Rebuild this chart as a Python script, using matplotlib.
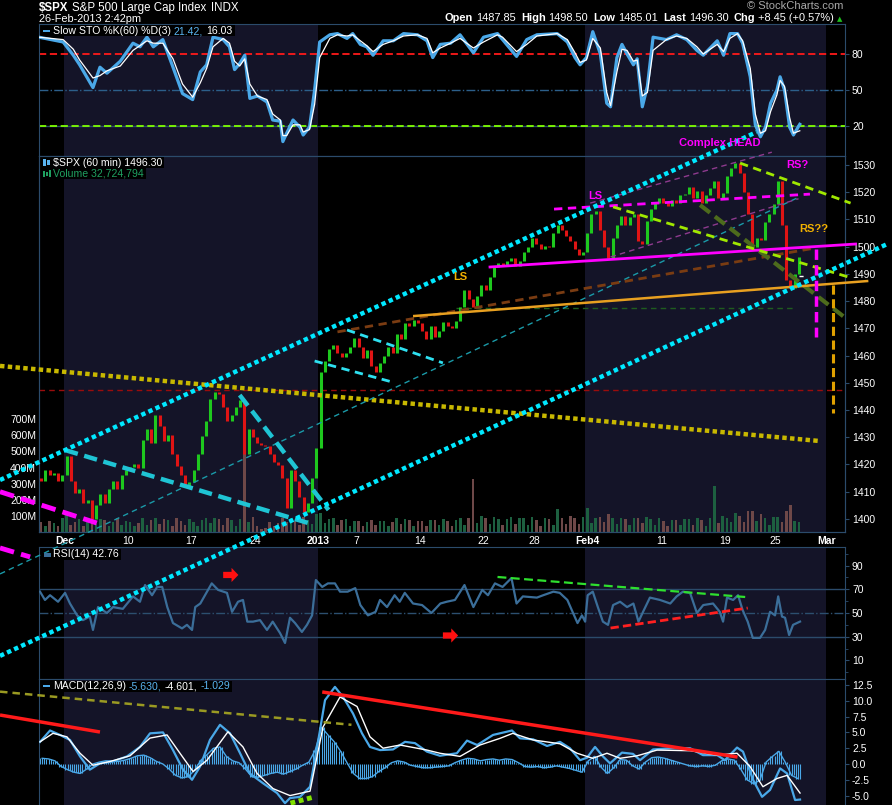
import matplotlib
matplotlib.use('Agg')
import matplotlib.pyplot as plt
from matplotlib.patches import Polygon, Rectangle
import numpy as np

W, H = 892, 805
FONT = ['Liberation Sans', 'DejaVu Sans']
plt.rcParams['font.family'] = FONT

# ---------------------------------------------------------------- data
# $SPX 60 min, three samples per trading day, day 0 = Nov 29 2012 ... day 59 = Feb 26 2013
price_close = [
    1414, 1418, 1416,      # Nov 29
    1417, 1414, 1416.2,    # Nov 30
    1423, 1414, 1409.5,    # Dec 3
    1411, 1406, 1407,
    1400, 1405, 1409.3,
    1406, 1411, 1413.9,
    1411, 1416, 1418.1,
    1419, 1420, 1418.6,    # Dec 10
    1429, 1433, 1427.8,
    1438, 1434, 1428.5,
    1431, 1424, 1419.5,
    1416, 1412, 1413.6,
    1418, 1424, 1430.4,    # Dec 17
    1436, 1444, 1446.8,
    1446, 1441, 1435.8,
    1438, 1441, 1443.7,
    1424, 1433, 1430.2,
    1428, 1427, 1426.7,    # Dec 24
    1424, 1421, 1419.8,
    1415, 1404, 1418.1,
    1414, 1408, 1402.4,
    1406, 1415, 1426.2,
    1454, 1458, 1462.4,    # Jan 2
    1464, 1461, 1459.4,
    1461, 1463, 1466.5,
    1463, 1459, 1461.9,    # Jan 7
    1456, 1454, 1457.2,
    1460, 1463, 1461.0,
    1468, 1466, 1472.1,
    1471, 1473, 1472.1,
    1469, 1466, 1470.7,    # Jan 14
    1467, 1469, 1472.3,
    1471, 1470, 1472.6,
    1478, 1484, 1480.9,
    1478, 1482, 1486.0,
    1484, 1489, 1492.6,    # Jan 22
    1494, 1493, 1494.8,
    1496, 1493, 1494.8,
    1498, 1500, 1503.0,
    1501, 1499, 1500.2,    # Jan 28
    1500, 1505, 1507.8,
    1506, 1504, 1502.0,
    1499, 1497, 1498.1,
    1505, 1512, 1513.2,
    1506, 1500, 1495.7,    # Feb 4
    1503, 1508, 1511.3,
    1508, 1511, 1512.1,
    1502, 1501, 1509.4,
    1514, 1516, 1517.9,
    1516, 1515, 1517.0,    # Feb 11
    1516, 1519, 1519.4,
    1522, 1518, 1520.3,
    1516, 1519, 1521.4,
    1524, 1518, 1519.8,
    1526, 1529, 1530.9,    # Feb 19
    1527, 1520, 1512.0,
    1500, 1503, 1502.4,
    1509, 1512, 1515.6,
    1524, 1508, 1487.9,    # Feb 25
    1485, 1490, 1496.3,
]

volume_m = [
    60, 40, 70,   55, 35, 90,   110, 45, 65,  80, 40, 75,   95, 50, 80,
    75, 40, 60,   85, 45, 70,   60, 35, 55,   85, 45, 75,   90, 50, 80,
    75, 40, 85,   70, 45, 80,   65, 40, 75,   85, 55, 90,   80, 45, 85,
    75, 40, 80,   780, 60, 95, 35, 20, 25,   60, 35, 55,   90, 60, 85,
    70, 45, 95,   75, 50, 110, 120, 55, 80,  85, 45, 75,   80, 40, 70,
    70, 40, 65,   75, 45, 70,   70, 40, 65,   85, 50, 80,   75, 40, 70,
    70, 40, 75,   75, 45, 80,   70, 40, 75,   85, 45, 90,   330, 55, 100,
    85, 50, 95,   80, 45, 80,   95, 50, 90,   85, 45, 95,   75, 40, 85,
    80, 45, 140,  90, 50, 100,  85, 50, 95,   150, 55, 90,  95, 60, 110,
    85, 50, 90,   80, 45, 85,   90, 55, 95,   80, 45, 85,   70, 40, 75,
    75, 45, 80,   80, 45, 85,   75, 40, 90,   285, 55, 100, 90, 60, 120,
    100, 65, 130, 130, 70, 110, 85, 45, 95,   95, 60, 130,  170, 70, 60,
]

# (trading day, %K, %D)
sto_pts = [
    (0.0, 94, 94), (1.9, 90, 92), (2.7, 79, 84), (3.2, 71, 75), (4.25, 52, 60), (4.8, 69, 62), (5.35, 64, 66),
    (6.4, 74, 70), (7.4, 89, 83), (7.95, 86, 87), (8.5, 94, 91), (9.0, 86, 89), (9.75, 92, 89), (10.55, 69, 76),
    (11.3, 47, 55), (12.1, 42, 44), (12.7, 65, 56), (13.2, 71, 68), (13.7, 94, 86), (14.5, 92, 93), (15.0, 86, 89),
    (15.4, 67, 74), (15.8, 72, 70), (16.2, 79, 76), (16.6, 43, 55), (17.2, 45, 45), (17.95, 40, 42), (18.4, 25, 30),
    (19.0, 24, 25), (19.2, 7, 12), (19.5, 14, 12), (20.0, 25, 21), (20.55, 19, 21), (20.8, 12.5, 15), (21.3, 19, 17),
    (21.7, 50, 38), (22.1, 90, 77), (22.9, 96, 93), (23.5, 97, 96), (24.25, 93, 95), (24.7, 97, 96), (25.3, 88, 91),
    (25.8, 86, 87), (26.3, 79, 82), (27.1, 91, 88), (27.9, 91, 91), (28.7, 97, 95), (29.8, 96, 96), (30.55, 91, 93),
    (31.0, 77, 81), (31.6, 88, 85), (32.4, 89, 89), (33.15, 96, 93), (34.2, 81, 85), (35.0, 94, 90), (36.1, 97, 96),
    (36.5, 92, 94), (37.6, 78, 82), (38.4, 92, 88), (39.2, 96, 95), (40.8, 97, 97), (41.6, 90, 92), (42.2, 77, 81),
    (42.6, 71, 73), (43.1, 77, 75), (43.6, 98.6, 93), (44.2, 80, 85), (44.7, 39, 48), (45.0, 36, 37), (45.5, 77, 65),
    (45.9, 88, 84), (46.3, 80, 83), (46.8, 71, 74), (47.1, 76, 75), (47.5, 36, 45), (47.9, 53, 48), (48.35, 94, 83),
    (49.4, 92, 92), (50.2, 96, 95), (51.0, 92, 93), (51.8, 83, 86), (52.3, 79, 80), (53.4, 91, 88), (53.9, 79, 82),
    (54.4, 97, 93), (55.0, 97, 97), (55.4, 89, 91), (56.0, 61, 68), (56.4, 21, 30), (56.8, 11, 14), (57.2, 19, 16),
    (57.6, 39, 32), (58.1, 50, 46), (58.35, 61, 58), (58.7, 50, 53), (59.1, 19, 27), (59.4, 12.5, 14), (59.9, 21.42, 16.03),
]

# (trading day, RSI 14)
rsi_pts = [
    (0.08, 68), (0.47, 61), (0.87, 65), (1.5, 59.5), (2.05, 67), (2.44, 58), (3.0, 48), (3.46, 44), (4.0, 47),
    (4.25, 35.7), (4.65, 55), (5.35, 50), (5.83, 55), (6.6, 53.5), (7.4, 64), (7.95, 59.5), (8.35, 73.6), (8.9, 65),
    (9.3, 72), (9.7, 72), (10.1, 55), (10.55, 41.5), (11.26, 37), (11.65, 40), (12.05, 35.7), (12.3, 55), (12.7, 58),
    (13.07, 65), (13.6, 75), (14.1, 69.5), (14.8, 67), (15.2, 51), (15.67, 59.5), (16.06, 61), (16.4, 42.7),
    (16.85, 42.7), (17.4, 44), (17.95, 35.7), (18.4, 42.7), (18.98, 33), (19.37, 24.7), (19.76, 46), (20.16, 41.5),
    (20.7, 34), (21.1, 40), (21.5, 48), (21.8, 77.8), (22.3, 72), (22.75, 75), (23.3, 75), (23.7, 68), (24.3, 68),
    (24.9, 71), (25.3, 56.7), (25.9, 48), (26.5, 51), (26.85, 61), (27.4, 55), (28.0, 65), (28.4, 59.5), (28.8, 67),
    (29.45, 58), (30.16, 56.7), (30.9, 50), (31.6, 58), (32.1, 59.5), (32.75, 61), (33.5, 73.6), (34.2, 55),
    (34.9, 69.5), (35.35, 65), (35.9, 75), (36.5, 72), (37.2, 79.5), (37.6, 58), (38.1, 64), (39.2, 63), (39.7, 65),
    (40.5, 68), (41.0, 67), (41.6, 61), (42.05, 50), (42.4, 41.5), (42.75, 48), (43.0, 42.7), (43.2, 65), (43.6, 68),
    (44.0, 55), (44.4, 42.7), (44.8, 40), (45.2, 56.7), (45.75, 59.5), (46.3, 55), (46.8, 58), (47.2, 42.7),
    (47.56, 51), (48.1, 63), (48.9, 61), (49.7, 58), (50.2, 64), (50.7, 68), (51.26, 67), (51.8, 50), (52.3, 56.7),
    (53.07, 58), (53.6, 51), (53.86, 42.7), (54.17, 63), (54.65, 61), (55.04, 65), (55.4, 52.5), (55.8, 42.7),
    (56.2, 29), (56.77, 29), (57.17, 35.7), (57.56, 51), (57.95, 48), (58.2, 64), (58.5, 47), (58.74, 46),
    (59.06, 31.4), (59.37, 40), (59.92, 42.76),
]

# (trading day, MACD line)
macd_pts = [
    (0.08, 3.5), (0.87, 5.3), (1.65, 4.6), (2.44, 3.8), (3.23, 1.2), (4.0, -0.9), (4.8, 0.1), (5.83, 0.4),
    (6.93, 1.2), (7.95, 2.7), (8.74, 4.85), (9.76, 5.0), (10.55, 2.2), (11.34, -0.9), (12.05, -2.5), (12.68, -0.4),
    (13.46, 3.8), (14.25, 6.2), (15.04, 4.85), (15.83, 1.7), (16.6, -1.5), (17.64, -3.05), (18.74, -4.6),
    (19.37, -6.2), (19.76, -5.4), (20.55, -5.2), (21.34, -3.6), (21.9, 2.7), (22.52, 10.1), (23.3, 12.2),
    (23.94, 10.6), (24.72, 8.0), (25.43, 4.85), (26.06, 2.7), (26.85, 2.2), (27.87, 2.3), (28.82, 3.5), (29.6, 3.3),
    (30.55, 1.95), (31.57, 1.3), (32.9, 1.7), (33.7, 3.7), (34.5, 3.0), (35.75, 4.6), (37.24, 5.3), (37.87, 4.06),
    (38.9, 3.9), (40.0, 2.85), (41.02, 3.5), (41.8, 2.5), (42.6, 0.6), (43.15, 1.0), (43.78, 2.7), (44.4, 1.2),
    (44.96, 0.1), (45.9, 1.8), (46.77, 1.6), (47.32, 0.6), (48.35, 2.3), (49.9, 2.5), (51.26, 2.5), (52.28, 1.4),
    (53.4, 1.4), (54.0, 0.6), (54.96, 2.6), (55.43, 1.95), (56.22, -2.5), (56.93, -5.2), (57.56, -4.1),
    (58.35, -0.7), (58.9, -1.5), (59.53, -5.7), (59.92, -5.63),
]

# (trading day, signal line)
signal_pts = [
    (0.08, 3.5), (1.1, 4.85), (2.2, 4.3), (3.23, 1.7), (4.25, -0.2), (5.6, 0.4), (7.17, 1.3), (8.74, 4.1),
    (10.08, 4.6), (11.1, 1.7), (12.13, -1.2), (13.23, 0.6), (14.88, 5.1), (16.06, 2.7), (17.17, -1.5),
    (18.43, -3.9), (19.76, -5.0), (21.34, -4.3), (22.36, 5.85), (23.7, 10.6), (25.04, 9.1), (26.06, 4.3),
    (27.09, 2.5), (28.43, 3.0), (30.55, 2.2), (31.57, 1.7), (33.15, 1.2), (34.72, 3.0), (36.3, 4.06), (37.3, 4.85),
    (38.9, 3.8), (41.02, 3.2), (42.36, 1.7), (43.6, 0.9), (44.72, 1.7), (45.75, 0.9), (47.1, 1.3), (48.66, 2.2),
    (51.26, 2.1), (53.4, 1.4), (54.96, 1.7), (55.98, -0.4), (57.0, -3.6), (58.1, -2.3), (58.9, -1.8), (59.92, -4.6),
]

# MACD histogram, one value per half trading day
macd_hist = [
    0.9, 0.8, 0.5, -0.4, -0.9, -1.3, -1.5, -0.8, 0.0, 0.3,
    0.5, 0.5, 0.4, 0.6, 0.9, 1.3, 1.4, 1.0, 0.4, 0.0,
    -0.8, -1.8, -2.2, -2.0, -1.0, 0.6, 1.5, 2.5, 2.7, 1.2,
    0.5, 0.2, -0.8, -2.0, -2.1, -1.8, -1.5, -1.3, -1.6, -1.2,
    -0.8, -0.2, 0.3, 2.2, 5.8, 4.6, 3.5, 2.0, 0.2, -1.5,
    -2.3, -2.3, -2.0, -1.2, -0.6, 0.2, 0.5, 0.3, -0.2, -0.4,
    -0.6, -0.6, -0.5, -0.4, -0.3, 0.2, 0.6, 0.9, 0.8, 0.5,
    0.7, 0.8, 0.6, 0.8, 0.7, 0.2, -0.4, -0.5, -0.4, -0.6,
    -0.5, -0.3, -0.5, -0.7, -1.0, -1.3, 0.5, 1.2, -0.5, -1.5,
    -0.6, 0.7, 0.6, -0.3, -0.8, 0.3, 1.0, 1.1, 0.9, 0.6,
    0.3, 0.0, -0.3, -0.4, -0.3, -0.4, -0.2, 0.5, 0.8, 0.6,
    -0.8, -2.5, -3.1, -2.6, 0.3, 1.2, 2.0, 0.3, -1.8, -2.3,
]

tick_days = [2, 7, 12, 17, 22, 25, 30, 35, 39, 43.2, 49, 54, 58, 62]
tick_labels = ['Dec', '10', '17', '24', '2013', '7', '14', '22', '28', 'Feb4', '11', '19', '25', 'Mar']
bold_ticks = {'Dec', '2013', 'Feb4', 'Mar'}
month_shade = [(2, 22), (43, 62)]   # December and February

# drawn trendlines, (day, price) end points
cyan_channel = [((-3.07, 1414.3), (56.5, 1542.1)), ((-3.07, 1349.7), (66.8, 1501.0))]
cyan_wedge = [((2.05, 1425.3), (21.2, 1398.5)), ((15.8, 1445.5), (22.8, 1403.3))]
cyan_flag = [((24.25, 1469.4), (31.8, 1457.3)), ((21.7, 1458.0), (27.8, 1450.3))]
teal_mid = [((-3.07, 1379.8), (59.7, 1517.9))]
purple_thin = [((45.0, 1496.2), (59.8, 1517.6)), ((43.4, 1516.0), (57.7, 1534.7))]
neck_magenta = ((35.4, 1492.5), (64.4, 1501.0))
top_magenta = ((40.55, 1513.8), (60.7, 1519.3))
left_magenta = ((-3.07, 1410.0), (4.55, 1398.5))
neck_orange = ((29.45, 1474.5), (65.3, 1487.4))
brown_line = ((23.5, 1468.7), (61.1, 1499.5))
yellow_line = ((-3.07, 1456.2), (61.5, 1428.6))
lime_lines = [((45.2, 1514.6), (63.7, 1488.9)), ((55.2, 1530.7), (63.9, 1516.0))]
olive_line = ((52.05, 1515.3), (63.5, 1473.8))
target_magenta = ((61.2, 1499.2), (61.2, 1466.8))
target_orange = ((62.5, 1485.9), (62.5, 1438.9))
red_level = 1447.4
green_level = (32.8, 59.5, 1477.5)
white_level = (59.3, 60.2, 1489.2)
rsi_green = ((36.1, 80.4), (55.6, 63.5))
rsi_red = ((45.0, 37.3), (55.8, 54.2))
rsi_magenta = ((-3.07, 104.9), (-0.7, 97.3))
macd_red = [((22.3, 11.4), (55.0, 1.1)), ((-3.07, 7.75), (4.8, 5.06))]
macd_olive = ((-3.07, 11.45), (24.6, 6.2))
macd_green = ((19.8, -6.2), (21.7, -5.2))

# ---------------------------------------------------------------- style
SHADE = '#141428'
FRAME = '#2b4b6b'
UP, DOWN = '#1ec81e', '#e01414'
VOL_UP, VOL_DN = '#1d6040', '#6e4848'
BLUE = '#4aa8e8'
XMAX = 63.46
DOT = (0, (1, 0.75))

fig = plt.figure(figsize=(W / 100, H / 100), dpi=100, facecolor='black')


def rect(y0, y1):
    return [39 / W, 1 - y1 / H, 806 / W, (y1 - y0) / H]


def panel(y0, y1, ylim, shade=True):
    ax = fig.add_axes(rect(y0, y1))
    ax.set_facecolor('black')
    ax.set_xlim(0, XMAX)
    ax.set_ylim(*ylim)
    for s in ax.spines.values():
        s.set_color(FRAME)
    ax.tick_params(axis='x', bottom=False, labelbottom=False)
    ax.yaxis.tick_right()
    ax.tick_params(axis='y', which='both', colors=FRAME, labelcolor='white', labelsize=7.5, length=3, pad=2)
    if shade:
        for a, b in month_shade:
            ax.axvspan(a, b, color=SHADE, zorder=0, lw=0)
    return ax


def seg(ax, p0, p1, **kw):
    ax.plot([p0[0], p1[0]], [p0[1], p1[1]], clip_on=False, solid_capstyle='butt',
            dash_capstyle='butt', **kw)


# ---- slow stochastics
ax_s = panel(24, 156, (-5, 105))
ax_s.axhline(80, color='#ff1a1a', lw=1.3, ls=(0, (4, 2)))
ax_s.axhline(50, color='#2c5f8a', lw=1, ls='-.')
ax_s.axhline(20, color=FRAME, lw=1)
ax_s.axhline(20, color='#7fff00', lw=1.3, ls=(0, (4, 2)))
st, sk, sd = zip(*sto_pts)
ax_s.plot(st, sk, color=BLUE, lw=2.3, zorder=3)
ax_s.plot(st, sd, color='white', lw=0.9, zorder=4)
ax_s.set_yticks([20, 50, 80])

# ---- volume (behind) and price
ax_v = panel(156, 532, (0, 2335))
ax_v.yaxis.tick_left()
ax_v.set_yticks(range(100, 701, 100))
ax_v.set_yticklabels([f'{v}M' for v in range(100, 701, 100)])
ax_v.tick_params(axis='y', length=0, pad=2, labelsize=7.5, labelcolor='white')

close = np.array(price_close, dtype=float)
opens = np.concatenate([[1415.0], close[:-1]])
xb = np.arange(len(close)) / 3 + 1 / 6
upmask = close >= opens
ax_v.bar(xb, volume_m, width=0.2, color=[VOL_UP if u else VOL_DN for u in upmask], zorder=2)

ax_p = fig.add_axes(rect(156, 532), sharex=ax_v)
ax_p.set_zorder(5)
ax_p.set_facecolor('none')
ax_p.set_ylim(1395.2, 1533.3)
for s in ax_p.spines.values():
    s.set_color(FRAME)
ax_p.yaxis.tick_right()
ax_p.set_yticks(range(1400, 1531, 10))
ax_p.tick_params(axis='y', colors=FRAME, labelcolor='white', labelsize=7.5, length=3, pad=2)
ax_p.set_xticks(tick_days)
ax_p.set_xticklabels(tick_labels)
ax_p.tick_params(axis='x', length=0, pad=3, labelsize=7.5, labelcolor='white')
for lab in ax_p.get_xticklabels():
    if lab.get_text() in bold_ticks:
        lab.set_fontweight('bold')

ax_p.vlines(xb, np.minimum(opens, close), np.maximum(opens, close),
            colors=[UP if u else DOWN for u in upmask], lw=2.2, zorder=3)

ax_p.axhline(red_level, color='#9a0c0c', lw=1, ls=(0, (4, 3)), zorder=2)
seg(ax_p, (green_level[0], green_level[2]), (green_level[1], green_level[2]), color='#1f5c1f', lw=1, ls=(0, (4, 3)))
seg(ax_p, (white_level[0], white_level[2]), (white_level[1], white_level[2]), color='white', lw=1, ls=(0, (3, 2)))
seg(ax_p, *yellow_line, color='#c8b800', lw=3.2, ls=DOT, zorder=4)
seg(ax_p, *teal_mid[0], color='#1a9aa8', lw=1, ls=(0, (4, 3)), zorder=4)
for p0, p1 in purple_thin:
    seg(ax_p, p0, p1, color='#8e3a8e', lw=1, ls=(0, (4, 3)), zorder=4)
seg(ax_p, *brown_line, color='#7a3c12', lw=2, ls=(0, (3, 2)), zorder=4)
seg(ax_p, *olive_line, color='#4d6b1c', lw=3, ls=(0, (3, 1.5)), zorder=4)
seg(ax_p, *neck_orange, color='#e8a020', lw=1.8, zorder=4)
seg(ax_p, *neck_magenta, color='#ff00ff', lw=2, zorder=4)
seg(ax_p, *top_magenta, color='#ff00ff', lw=2, ls=(0, (3, 2)), zorder=4)
seg(ax_p, *left_magenta, color='#ff00ff', lw=3.5, ls=(0, (3, 1.5)), zorder=4)
for p0, p1 in lime_lines:
    seg(ax_p, p0, p1, color='#a0e800', lw=2, ls=(0, (3, 2)), zorder=4)
for p0, p1 in cyan_wedge:
    seg(ax_p, p0, p1, color='#1fc4d4', lw=3.2, ls=(0, (3, 1.5)), zorder=4)
for p0, p1 in cyan_flag:
    seg(ax_p, p0, p1, color='#2ee0f0', lw=2, ls=(0, (3, 2)), zorder=4)
for p0, p1 in cyan_channel:
    seg(ax_p, p0, p1, color='#00e8ff', lw=3.2, ls=DOT, zorder=4)
seg(ax_p, *target_magenta, color='#ff00ff', lw=2.5, ls=(0, (3, 1.5)), zorder=4)
seg(ax_p, *target_orange, color='#e0a000', lw=2.2, ls=(0, (3, 1.5)), zorder=4)

lab_kw = dict(fontsize=8, fontweight='bold', ha='center', va='center', zorder=6)
ax_p.text(53.6, 1538.1, 'Complex HEAD', color='#ff00ff', **lab_kw)
ax_p.text(59.7, 1530.0, 'RS?', color='#ff00ff', **lab_kw)
ax_p.text(43.8, 1518.6, 'LS', color='#ff00ff', **lab_kw)
ax_p.text(33.2, 1488.9, 'LS', color='#f0b000', **lab_kw)
ax_p.text(61.0, 1506.5, 'RS??', color='#f0b000', **lab_kw)

# ---- RSI
ax_r = panel(547, 679, (-5.7, 105.7))
ax_r.axhline(70, color=FRAME, lw=1)
ax_r.axhline(30, color=FRAME, lw=1)
ax_r.axhline(50, color='#2c4f6f', lw=1, ls='-.')
rt, rv = zip(*rsi_pts)
ax_r.plot(rt, rv, color='#3b6e99', lw=1.6, zorder=3)
ax_r.set_yticks([10, 30, 50, 70, 90])
ax_r.set_yticks(range(0, 101, 10), minor=True)
ax_r.tick_params(axis='y', which='minor', length=2)
seg(ax_r, *rsi_green, color='#2ee02e', lw=1.6, ls=(0, (4, 2)), zorder=4)
seg(ax_r, *rsi_red, color='#ff2020', lw=2, ls=(0, (3, 1.5)), zorder=4)
seg(ax_r, *rsi_magenta, color='#ff00ff', lw=3.5, ls=(0, (3, 1.5)), zorder=4)


def arrow(ax, x0, x1, yc, h):
    xm = x0 + 0.55 * (x1 - x0)
    pts = [(x0, yc - h * 0.22), (xm, yc - h * 0.22), (xm, yc - h / 2), (x1, yc),
           (xm, yc + h / 2), (xm, yc + h * 0.22), (x0, yc + h * 0.22)]
    ax.add_patch(Polygon(pts, closed=True, fc='#ff1010', ec='none', zorder=5))


arrow(ax_r, 14.5, 15.7, 82.1, 12)
arrow(ax_r, 31.8, 33.0, 31.0, 12)

# ---- MACD
ax_m = panel(679, 806, (-6.65, 13.45))
ax_m.spines['bottom'].set_visible(False)
# histogram drawn as thin stripes (three per half-day value) with an outline on top
hx = np.arange(len(macd_hist)) * 0.5 + 0.25
sx = np.arange(len(macd_hist) * 3) / 6 + 1 / 12
sh = np.repeat(macd_hist, 3)
ax_m.vlines(sx, 0, sh, colors=BLUE, lw=0.8, zorder=2)
ax_m.plot(hx, macd_hist, color=BLUE, lw=1.0, zorder=2)
mt, mv = zip(*macd_pts)
gt, gv = zip(*signal_pts)
ax_m.plot(mt, mv, color=BLUE, lw=1.6, zorder=3)
ax_m.plot(gt, gv, color='white', lw=1, zorder=4)
ax_m.set_yticks([-5, -2.5, 0, 2.5, 5, 7.5, 10, 12.5])
ax_m.set_yticklabels([f'{v:.1f}' for v in [-5, -2.5, 0, 2.5, 5, 7.5, 10, 12.5]])
for p0, p1 in macd_red:
    seg(ax_m, p0, p1, color='#ff1a1a', lw=2.5, zorder=5)
seg(ax_m, *macd_olive, color='#9a9a22', lw=1.8, ls=(0, (3, 2)), zorder=5)
seg(ax_m, *macd_green, color='#80e000', lw=3.5, ls=DOT, zorder=5)

# ---------------------------------------------------------------- texts
renderer = fig.canvas.get_renderer()


def seq_text(x_px, y_px, pieces, size, align='left', bg=False):
    arts, widths = [], []
    for s, col, wt, gap in pieces:
        t = fig.text(0, 1 - y_px / H, s, color=col, fontsize=size, fontweight=wt,
                     va='center', ha='left', zorder=21)
        arts.append(t)
        widths.append(t.get_window_extent(renderer).width + gap)
    total = sum(widths) - pieces[-1][3]
    x = x_px - total if align == 'right' else x_px
    if bg:
        fig.add_artist(Rectangle(((x - 2) / W, 1 - (y_px + 5.5) / H), (total + 4) / W, 11 / H,
                                 transform=fig.transFigure, fc='black', ec='none', zorder=20))
    for t, w in zip(arts, widths):
        t.set_x(x / W)
        x += w


def icon(x_px, y_px, w, h, color):
    fig.add_artist(Rectangle((x_px / W, 1 - (y_px + h / 2) / H), w / W, h / H,
                             transform=fig.transFigure, fc=color, ec='none', zorder=22))


seq_text(39, 8, [('$SPX', 'white', 'bold', 4), ('S&P 500 Large Cap Index', 'white', 'normal', 4),
                 ('INDX', 'white', 'normal', 0)], 8.3)
fig.text(39 / W, 1 - 19 / H, '26-Feb-2013 2:42pm', color='white', fontsize=7.9, va='center', zorder=21)
fig.text(843 / W, 1 - 6 / H, '© StockCharts.com', color='#a8a8a8', fontsize=8, ha='right', va='center', zorder=21)
seq_text(834, 18, [('Open', 'white', 'bold', 3), ('1487.85', 'white', 'normal', 5),
                   ('High', 'white', 'bold', 3), ('1498.50', 'white', 'normal', 5),
                   ('Low', 'white', 'bold', 3), ('1485.01', 'white', 'normal', 5),
                   ('Last', 'white', 'bold', 3), ('1496.30', 'white', 'normal', 5),
                   ('Chg', 'white', 'bold', 3), ('+8.45 (+0.57%)', 'white', 'normal', 0)], 7.9, align='right')
fig.text(840 / W, 1 - 19 / H, '▲', color='#20c020', fontsize=5, ha='center', va='center',
         family='DejaVu Sans', zorder=21)

seq_text(53, 31, [('Slow STO %K(60) %D(3)', 'white', 'normal', 3), ('21.42,', '#5ab4f0', 'normal', 3),
                  ('16.03', 'white', 'normal', 0)], 7.6, bg=True)
icon(43, 31, 7, 2.5, BLUE)
seq_text(53, 163, [('$SPX (60 min) 1496.30', 'white', 'normal', 0)], 7.6, bg=True)
icon(43, 163, 3, 7, '#5ab4f0')
icon(47, 163, 3, 5, '#5ab4f0')
seq_text(53, 173, [('Volume 32,724,794', '#1fa060', 'normal', 0)], 7.6, bg=True)
icon(43, 174, 2, 6, '#1fa060')
icon(46, 174, 2, 4, '#1fa060')
icon(49, 174, 2, 7, '#1fa060')
seq_text(53, 554, [('RSI(14) 42.76', 'white', 'normal', 0)], 7.6, bg=True)
icon(44, 555, 7, 4, '#3b6e99')
seq_text(53, 686, [('MACD(12,26,9)', 'white', 'normal', 3), ('-5.630,', '#5ab4f0', 'normal', 3),
                   ('-4.601,', 'white', 'normal', 3), ('-1.029', '#5ab4f0', 'normal', 0)], 7.6, bg=True)
icon(43, 686, 7, 2.5, BLUE)

fig.savefig('out.png', dpi=100, facecolor='black')
